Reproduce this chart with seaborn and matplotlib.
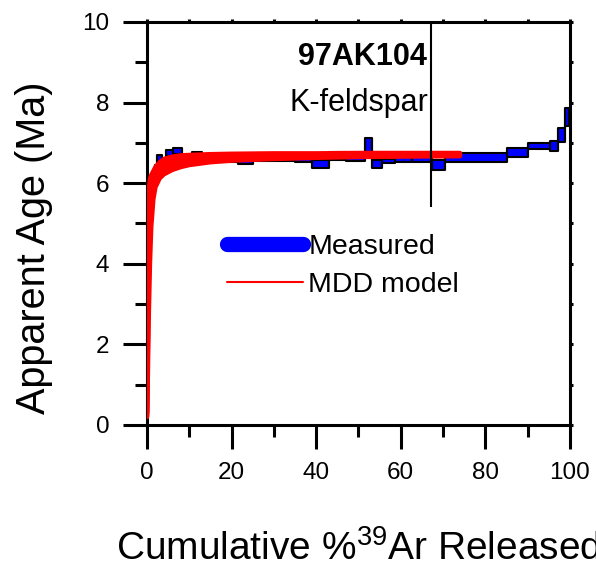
import numpy as np
import pandas as pd
import matplotlib
matplotlib.use("Agg")
import matplotlib.pyplot as plt
from matplotlib.lines import Line2D
from matplotlib.ticker import MultipleLocator
import seaborn as sns

# ---------------- data ----------------
step_edges = [0.0, 0.1, 0.25, 0.45, 0.7, 1.1, 1.8, 2.4, 3.5, 4.5, 6.2, 8.3, 10.6, 13.0,
              17.0, 21.5, 25.0, 35.0, 39.0, 43.0, 47.0, 51.5, 53.2, 55.6, 58.7, 62.7,
              67.4, 70.4, 85.0, 90.0, 95.3, 97.2, 98.8, 99.8]
step_age = [0.3, 1.5, 3.3, 4.8, 5.7, 6.1, 6.35, 6.58, 6.5, 6.75, 6.8, 6.6, 6.67,
            6.62, 6.6, 6.55, 6.62, 6.6, 6.48, 6.68, 6.62, 6.9, 6.48, 6.55, 6.58,
            6.6, 6.45, 6.64, 6.76, 6.92, 6.93, 7.2, 7.65]
step_err = [0.1, 0.2, 0.2, 0.15, 0.12, 0.1, 0.1, 0.12, 0.1, 0.07, 0.08, 0.08, 0.1,
            0.08, 0.08, 0.08, 0.07, 0.07, 0.1, 0.1, 0.07, 0.22, 0.1, 0.06, 0.06,
            0.07, 0.13, 0.11, 0.11, 0.08, 0.12, 0.17, 0.22]

model_x = [0, 0.2, 0.4, 0.7, 1.0, 1.5, 2, 3, 4, 6, 8, 10, 15, 20, 30, 40, 50, 60, 74]
model_1 = [0.2, 1.2, 2.6, 4.0, 4.9, 5.6, 5.9, 6.12, 6.22, 6.33, 6.4, 6.45, 6.52, 6.56, 6.6, 6.63, 6.65, 6.66, 6.67]
model_2 = [0.2, 1.8, 3.5, 4.8, 5.5, 5.9, 6.08, 6.25, 6.33, 6.43, 6.49, 6.53, 6.58, 6.61, 6.64, 6.66, 6.67, 6.68, 6.69]
model_3 = [0.25, 2.6, 4.4, 5.5, 5.9, 6.1, 6.2, 6.35, 6.42, 6.51, 6.56, 6.59, 6.63, 6.65, 6.67, 6.68, 6.69, 6.7, 6.71]
model_4 = [0.3, 3.6, 5.2, 5.9, 6.1, 6.22, 6.3, 6.43, 6.5, 6.58, 6.62, 6.64, 6.67, 6.69, 6.7, 6.71, 6.71, 6.72, 6.72]
model_5 = [0.3, 4.8, 5.8, 6.1, 6.2, 6.3, 6.4, 6.52, 6.6, 6.66, 6.69, 6.7, 6.72, 6.73, 6.74, 6.74, 6.75, 6.75, 6.75]

marker_x = 67.2
marker_ymin = 5.4

sample_name = "97AK104"
mineral = "K-feldspar"
x_ticks = [0, 20, 40, 60, 80, 100]
y_ticks = [0, 2, 4, 6, 8, 10]

# ---------------- style ----------------
sns.set_style("ticks")
plt.rcParams["font.family"] = ["Liberation Sans", "DejaVu Sans"]
plt.rcParams["mathtext.fontset"] = "custom"
plt.rcParams["mathtext.rm"] = "Liberation Sans"
plt.rcParams["mathtext.it"] = "Liberation Sans"
for k in ["text.color", "axes.labelcolor", "xtick.color", "ytick.color", "axes.edgecolor"]:
    plt.rcParams[k] = "black"

fig = plt.figure(figsize=(5.96, 5.71), dpi=100)
ax = fig.add_axes([0.2466, 0.2557, 0.7097, 0.7058])

# measured spectrum (boxes)
edges = np.array(step_edges)
age = np.array(step_age)
err = np.array(step_err)
upper = np.append(age + err, (age + err)[-1])
lower = np.append(age - err, (age - err)[-1])
ax.fill_between(edges, lower, upper, step="post", color="#0000ff", lw=0, zorder=2)
ax.step(edges, upper, where="post", color="black", lw=1.5, zorder=3)
ax.step(edges, lower, where="post", color="black", lw=1.5, zorder=3)
ax.vlines([edges[0], edges[-1]], [lower[0], lower[-1]], [upper[0], upper[-1]],
          color="black", lw=1.5, zorder=3)
for i in range(1, len(edges) - 1):
    lo = min(age[i - 1] - err[i - 1], age[i] - err[i])
    hi = max(age[i - 1] + err[i - 1], age[i] + err[i])
    ax.vlines(edges[i], lo, hi, color="black", lw=1.5, zorder=3)

# model curves
runs = [model_1, model_2, model_3, model_4, model_5]
df = pd.DataFrame({
    "x": np.tile(model_x, len(runs)),
    "age": np.concatenate(runs),
    "run": np.repeat(np.arange(len(runs)), len(model_x)),
})
sns.lineplot(data=df, x="x", y="age", units="run", estimator=None, sort=False,
             color="#ff0000", lw=3.2, ax=ax, legend=False, zorder=4)

ax.vlines(marker_x, marker_ymin, 10, color="black", lw=1.5, zorder=5)

ax.text(51, 9.13, sample_name, fontsize=22, fontweight="bold", ha="center", va="center")
ax.text(50, 7.98, mineral, fontsize=22, ha="center", va="center")

handles = [Line2D([], [], color="#0000ff", lw=11, solid_capstyle="round"),
           Line2D([], [], color="#ff0000", lw=1.5)]
ax.legend(handles, ["Measured", "MDD model"], loc="upper left",
          bbox_to_anchor=(0.19, 0.475), frameon=False, fontsize=20.5,
          handlelength=2.65, handletextpad=0.2, labelspacing=0.45, borderpad=0,
          borderaxespad=0)

ax.set_xlim(0, 100)
ax.set_ylim(0, 10)
ax.set_xticks(x_ticks)
ax.set_yticks(y_ticks)
ax.xaxis.set_minor_locator(MultipleLocator(10))
ax.yaxis.set_minor_locator(MultipleLocator(1))
ax.tick_params(which="major", length=17, width=2.2, labelsize=17.5, direction="out")
ax.tick_params(axis="x", which="major", pad=10)
ax.tick_params(axis="y", which="major", pad=10)
ax.tick_params(which="minor", length=8.5, width=2.2, direction="out")
ax.tick_params(which="both", top=True, right=True)
ax.tick_params(axis="x", which="both", labeltop=False)
ax.tick_params(axis="y", which="both", labelright=False)
for t in ax.xaxis.get_ticklines(minor=False)[1::2] + ax.xaxis.get_ticklines(minor=True)[1::2]:
    t.set_markersize(2)
for t in ax.yaxis.get_ticklines(minor=False)[1::2] + ax.yaxis.get_ticklines(minor=True)[1::2]:
    t.set_markersize(2)
for s in ax.spines.values():
    s.set_linewidth(2.2)
    s.set_visible(True)

ax.set_xlabel(r"Cumulative %$^{39}$Ar Released", fontsize=28)
ax.xaxis.set_label_coords(0.5, -0.262)
ax.set_ylabel("Apparent Age (Ma)", fontsize=28.5)
ax.yaxis.set_label_coords(-0.222, 0.44)

fig.savefig("out.png", dpi=100)
